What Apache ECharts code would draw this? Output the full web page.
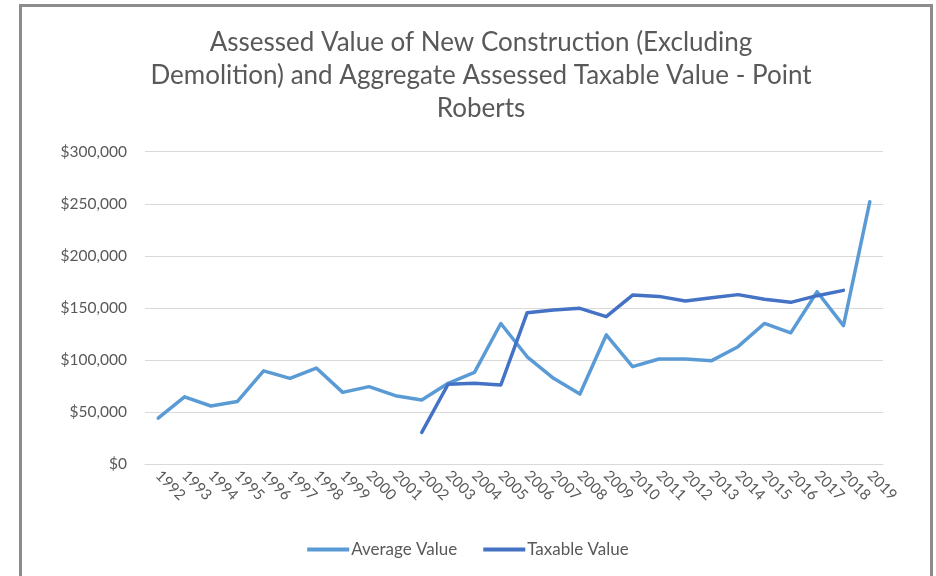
<!DOCTYPE html>
<html>
<head>
<meta charset="utf-8">
<script src="https://cdn.jsdelivr.net/npm/echarts@6/dist/echarts.min.js"></script>
<style>
  html, body { margin: 0; padding: 0; background: #fff; }
  #frame { position: absolute; left: 19px; top: 4px; width: 914px; height: 600px; border: 3px solid #8c8c8c; box-sizing: border-box; }
  #chart { position: absolute; left: 0; top: 0; width: 936px; height: 576px; }
</style>
</head>
<body>
<div id="frame"></div>
<div id="chart"></div>
<script>
// Years on the category axis
const years = ['1992', '1993', '1994', '1995', '1996', '1997', '1998', '1999', '2000', '2001',
    '2002', '2003', '2004', '2005', '2006', '2007', '2008', '2009', '2010', '2011',
    '2012', '2013', '2014', '2015', '2016', '2017', '2018', '2019'];

// Average assessed value of new construction
const averageValue = [44000, 64500, 55700, 60000, 89500, 82300, 92200, 68800, 74300, 65600,
    61500, 77500, 88000, 135000, 103000, 82300, 67200, 124000, 93500, 100900,
    100900, 99300, 112700, 135000, 126000, 165500, 132900, 252000];

// Aggregate assessed taxable value (starts 2002)
const taxableValue = [null, null, null, null, null, null, null, null, null, null,
    30400, 76600, 77500, 75900, 145400, 147900, 149500, 141500, 162300, 161000,
    156600, 159800, 162700, 158200, 155300, 161700, 166800, null];

const yTicks = [0, 50000, 100000, 150000, 200000, 250000, 300000];

const fontFamily = 'Lato, "Open Sans", sans-serif';
const textColor = '#595959';

const chart = echarts.init(document.getElementById('chart'));
chart.setOption({
    animation: false,
    title: {
        text: 'Assessed Value of New Construction (Excluding\nDemolition) and Aggregate Assessed Taxable Value - Point\nRoberts',
        left: 476,
        textAlign: 'center',
        top: 21,
        textStyle: { fontSize: 26, fontWeight: 'normal', color: textColor, fontFamily, lineHeight: 33 }
    },
    legend: {
        bottom: 13,
        left: 'center',
        itemWidth: 42,
        itemHeight: 4,
        itemGap: 26,
        icon: 'rect',
        textStyle: { fontSize: 17, color: textColor, fontFamily, padding: [0, 0, 0, -3] },
        data: ['Average Value', 'Taxable Value']
    },
    grid: { left: 145, right: 53, top: 151.7, bottom: 112 },
    xAxis: {
        type: 'category',
        data: years,
        boundaryGap: true,
        axisLine: { show: true, lineStyle: { color: '#d9d9d9' } },
        axisTick: { show: false },
        axisLabel: { rotate: -45, interval: 0, fontSize: 15, color: textColor, fontFamily, margin: 9 }
    },
    yAxis: {
        type: 'value',
        min: yTicks[0],
        max: yTicks[yTicks.length - 1],
        interval: 50000,
        axisLine: { show: false },
        axisTick: { show: false },
        splitLine: { lineStyle: { color: '#d9d9d9', width: 1 } },
        axisLabel: {
            fontSize: 15.5, color: textColor, fontFamily, margin: 18,
            formatter: v => '$' + v.toLocaleString('en-US')
        }
    },
    series: [
        {
            name: 'Average Value',
            type: 'line',
            data: averageValue,
            showSymbol: false,
            color: '#5b9bd5',
            lineStyle: { width: 3.5, cap: 'round', join: 'round' }
        },
        {
            name: 'Taxable Value',
            type: 'line',
            data: taxableValue,
            showSymbol: false,
            color: '#4472c4',
            lineStyle: { width: 3.5, cap: 'round', join: 'round' }
        }
    ]
});
</script>
</body>
</html>
